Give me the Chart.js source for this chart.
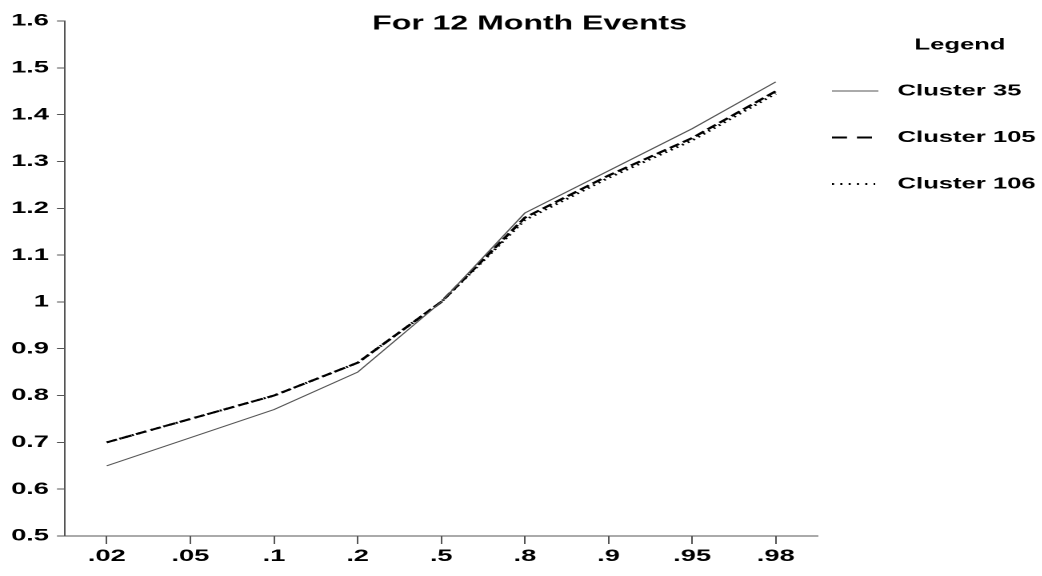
<!DOCTYPE html>
<html lang="en">
<head>
<meta charset="UTF-8">
<title>For 12 Month Events</title>
<script src="https://cdn.jsdelivr.net/npm/chart.js"></script>
<style>
    html, body { margin: 0; padding: 0; background: #fff; overflow: hidden; }
    /* the original picture is stretched sideways: draw narrow, then widen */
    .wrap { width: 651px; height: 576px; transform: scaleX(1.6); transform-origin: 0 0; }
</style>
</head>
<body>
<div class="wrap"><canvas id="chart"></canvas></div>

<script>
    const probs = ['.02', '.05', '.1', '.2', '.5', '.8', '.9', '.95', '.98'];
    const cluster35 = [0.65, 0.71, 0.77, 0.85, 1.00, 1.19, 1.28, 1.37, 1.47];
    const cluster105 = [0.70, 0.75, 0.80, 0.87, 1.00, 1.18, 1.27, 1.35, 1.45];
    const cluster106 = [0.70, 0.75, 0.80, 0.87, 1.00, 1.175, 1.265, 1.345, 1.445];
    const seriesNames = ['Cluster 35', 'Cluster 105', 'Cluster 106'];
    const yTicks = [0.5, 0.6, 0.7, 0.8, 0.9, 1, 1.1, 1.2, 1.3, 1.4, 1.5, 1.6];
    const chartTitle = 'For 12 Month Events';
    const legendTitle = 'Legend';

    const FONT = '"Liberation Sans", Arial, sans-serif';
    Chart.defaults.font.family = FONT;
    Chart.defaults.color = '#000';

    // dash used for the small samples in the legend
    const legendDash = [[], [9.4, 6.2], [1.3, 3.9]];
    const legendLen = [29, 25, 27];

    const titlePlugin = {
        id: 'bigTitle',
        afterDraw(chart) {
            const ctx = chart.ctx;
            ctx.save();
            ctx.font = 'bold 20px ' + FONT;
            ctx.fillStyle = '#000';
            ctx.textAlign = 'center';
            ctx.textBaseline = 'middle';
            ctx.fillText(chartTitle, 331, 24);
            ctx.restore();
        }
    };

    const sideLegend = {
        id: 'sideLegend',
        afterDraw(chart) {
            const ctx = chart.ctx;
            ctx.save();
            ctx.font = 'bold 16px ' + FONT;
            ctx.fillStyle = '#000';
            ctx.textBaseline = 'middle';
            ctx.textAlign = 'center';
            ctx.fillText(legendTitle, 600, 45);
            ctx.textAlign = 'left';
            chart.data.datasets.forEach((ds, i) => {
                const y = 91 + i * 46.5;
                ctx.beginPath();
                ctx.strokeStyle = ds.borderColor;
                ctx.lineWidth = ds.borderWidth;
                ctx.setLineDash(legendDash[i]);
                ctx.moveTo(520, y);
                ctx.lineTo(520 + legendLen[i], y);
                ctx.stroke();
                ctx.fillText(ds.label, 561, y);
            });
            ctx.restore();
        }
    };

    new Chart(document.getElementById('chart'), {
        type: 'line',
        data: {
            labels: probs,
            datasets: [
                { label: seriesNames[0], data: cluster35, borderColor: '#555', borderWidth: 1 },
                { label: seriesNames[1], data: cluster105, borderColor: '#000', borderWidth: 2, borderDash: [7, 3] },
                { label: seriesNames[2], data: cluster106, borderColor: '#000', borderWidth: 2, borderDash: [1.3, 3] }
            ]
        },
        options: {
            responsive: true,
            maintainAspectRatio: false,
            devicePixelRatio: 2,
            animation: false,
            elements: { point: { radius: 0 }, line: { tension: 0, fill: false } },
            layout: { padding: { top: 21, right: 140, left: 0, bottom: 0 } },
            plugins: { legend: { display: false }, title: { display: false }, tooltip: { enabled: false } },
            scales: {
                x: {
                    offset: true,
                    grid: { drawOnChartArea: false, tickLength: 8, color: '#555' },
                    border: { color: '#555', width: 1 },
                    ticks: { font: { size: 17, weight: 'bold' }, padding: 2, maxRotation: 0, autoSkip: false },
                    afterFit(s) { s.height = 40; }
                },
                y: {
                    min: 0.5,
                    max: 1.6,
                    afterBuildTicks(s) { s.ticks = yTicks.map(v => ({ value: v })); },
                    grid: { drawOnChartArea: false, tickLength: 5, color: '#555' },
                    border: { color: '#555', width: 1 },
                    ticks: {
                        font: { size: 17, weight: 'bold' },
                        padding: 5,
                        callback: v => String(+v.toFixed(1))
                    },
                    afterFit(s) { s.width = 40.6; }
                }
            }
        },
        plugins: [titlePlugin, sideLegend]
    });
</script>
</body>
</html>
